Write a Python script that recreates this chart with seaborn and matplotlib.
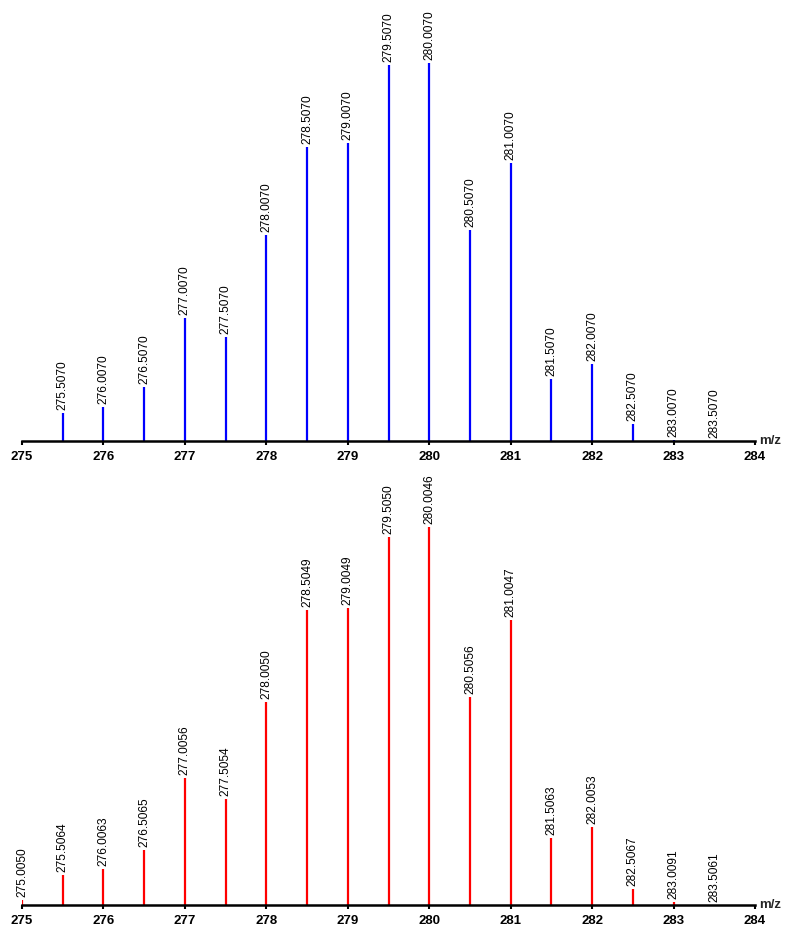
import numpy as np
import matplotlib
matplotlib.use("Agg")
import matplotlib.pyplot as plt
import seaborn as sns

# measured spectrum (top, blue)
mz_top = [275.5, 276.0, 276.5, 277.0, 277.5, 278.0, 278.5, 279.0, 279.5,
          280.0, 280.5, 281.0, 281.5, 282.0, 282.5, 283.0, 283.5]
int_top = [7.4, 9.0, 14.3, 32.6, 27.5, 54.5, 77.8, 78.9, 99.5,
           100.0, 55.9, 73.6, 16.4, 20.4, 4.5, 0.3, 0.1]
lab_top = ["275.5070", "276.0070", "276.5070", "277.0070", "277.5070", "278.0070",
           "278.5070", "279.0070", "279.5070", "280.0070", "280.5070", "281.0070",
           "281.5070", "282.0070", "282.5070", "283.0070", "283.5070"]

# simulated spectrum (bottom, red)
mz_bot = [275.0, 275.5, 276.0, 276.5, 277.0, 277.5, 278.0, 278.5, 279.0,
          279.5, 280.0, 280.5, 281.0, 281.5, 282.0, 282.5, 283.0, 283.5]
int_bot = [1.3, 7.9, 9.5, 14.6, 33.6, 28.0, 53.7, 78.0, 78.6,
           97.4, 100.0, 55.0, 75.4, 17.7, 20.6, 4.2, 0.8, 0.1]
lab_bot = ["275.0050", "275.5064", "276.0063", "276.5065", "277.0056", "277.5054",
           "278.0050", "278.5049", "279.0049", "279.5050", "280.0046", "280.5056",
           "281.0047", "281.5063", "282.0053", "282.5067", "283.0091", "283.5061"]

xticks = [275, 276, 277, 278, 279, 280, 281, 282, 283, 284]

sns.set_theme(style="ticks")
plt.rcParams['font.family'] = ['Liberation Sans', 'DejaVu Sans']

fig = plt.figure(figsize=(7.85, 9.27), dpi=100)
W, H = 785, 927


def spectrum(ax, mz, inten, labels, color):
    ax.vlines(mz, 0, inten, colors=color, linewidth=1.6)
    for x, y, t in zip(mz, inten, labels):
        ax.annotate(t, (x, y), xytext=(0, 2), textcoords="offset points",
                    rotation=90, ha="center", va="bottom", fontsize=8.6, color="black")
    ax.set_xlim(275, 284)
    ax.set_ylim(0, 111.4)
    ax.set_xticks(xticks)
    ax.set_xticklabels([str(t) for t in xticks], fontweight="bold", fontsize=9.5)
    ax.set_yticks([])
    ax.tick_params(axis="x", direction="out", length=3, width=1.5, pad=4, colors="black")
    sns.despine(ax=ax, left=True)
    ax.spines["bottom"].set_linewidth(1.8)
    ax.spines["bottom"].set_color("black")
    ax.patch.set_alpha(0)
    ax.text(1.005, 0.0, "m/z", transform=ax.transAxes, ha="left", va="center",
            fontweight="bold", fontsize=9.5)


left = 22 / W
width = (755 - 22) / W
ax1 = fig.add_axes([left, 1 - 441 / H, width, 421 / H])
ax2 = fig.add_axes([left, 1 - 905 / H, width, 421 / H])

spectrum(ax1, mz_top, int_top, lab_top, "#0000ff")
spectrum(ax2, mz_bot, int_bot, lab_bot, "#ff0000")

fig.savefig("out.png", dpi=100)
